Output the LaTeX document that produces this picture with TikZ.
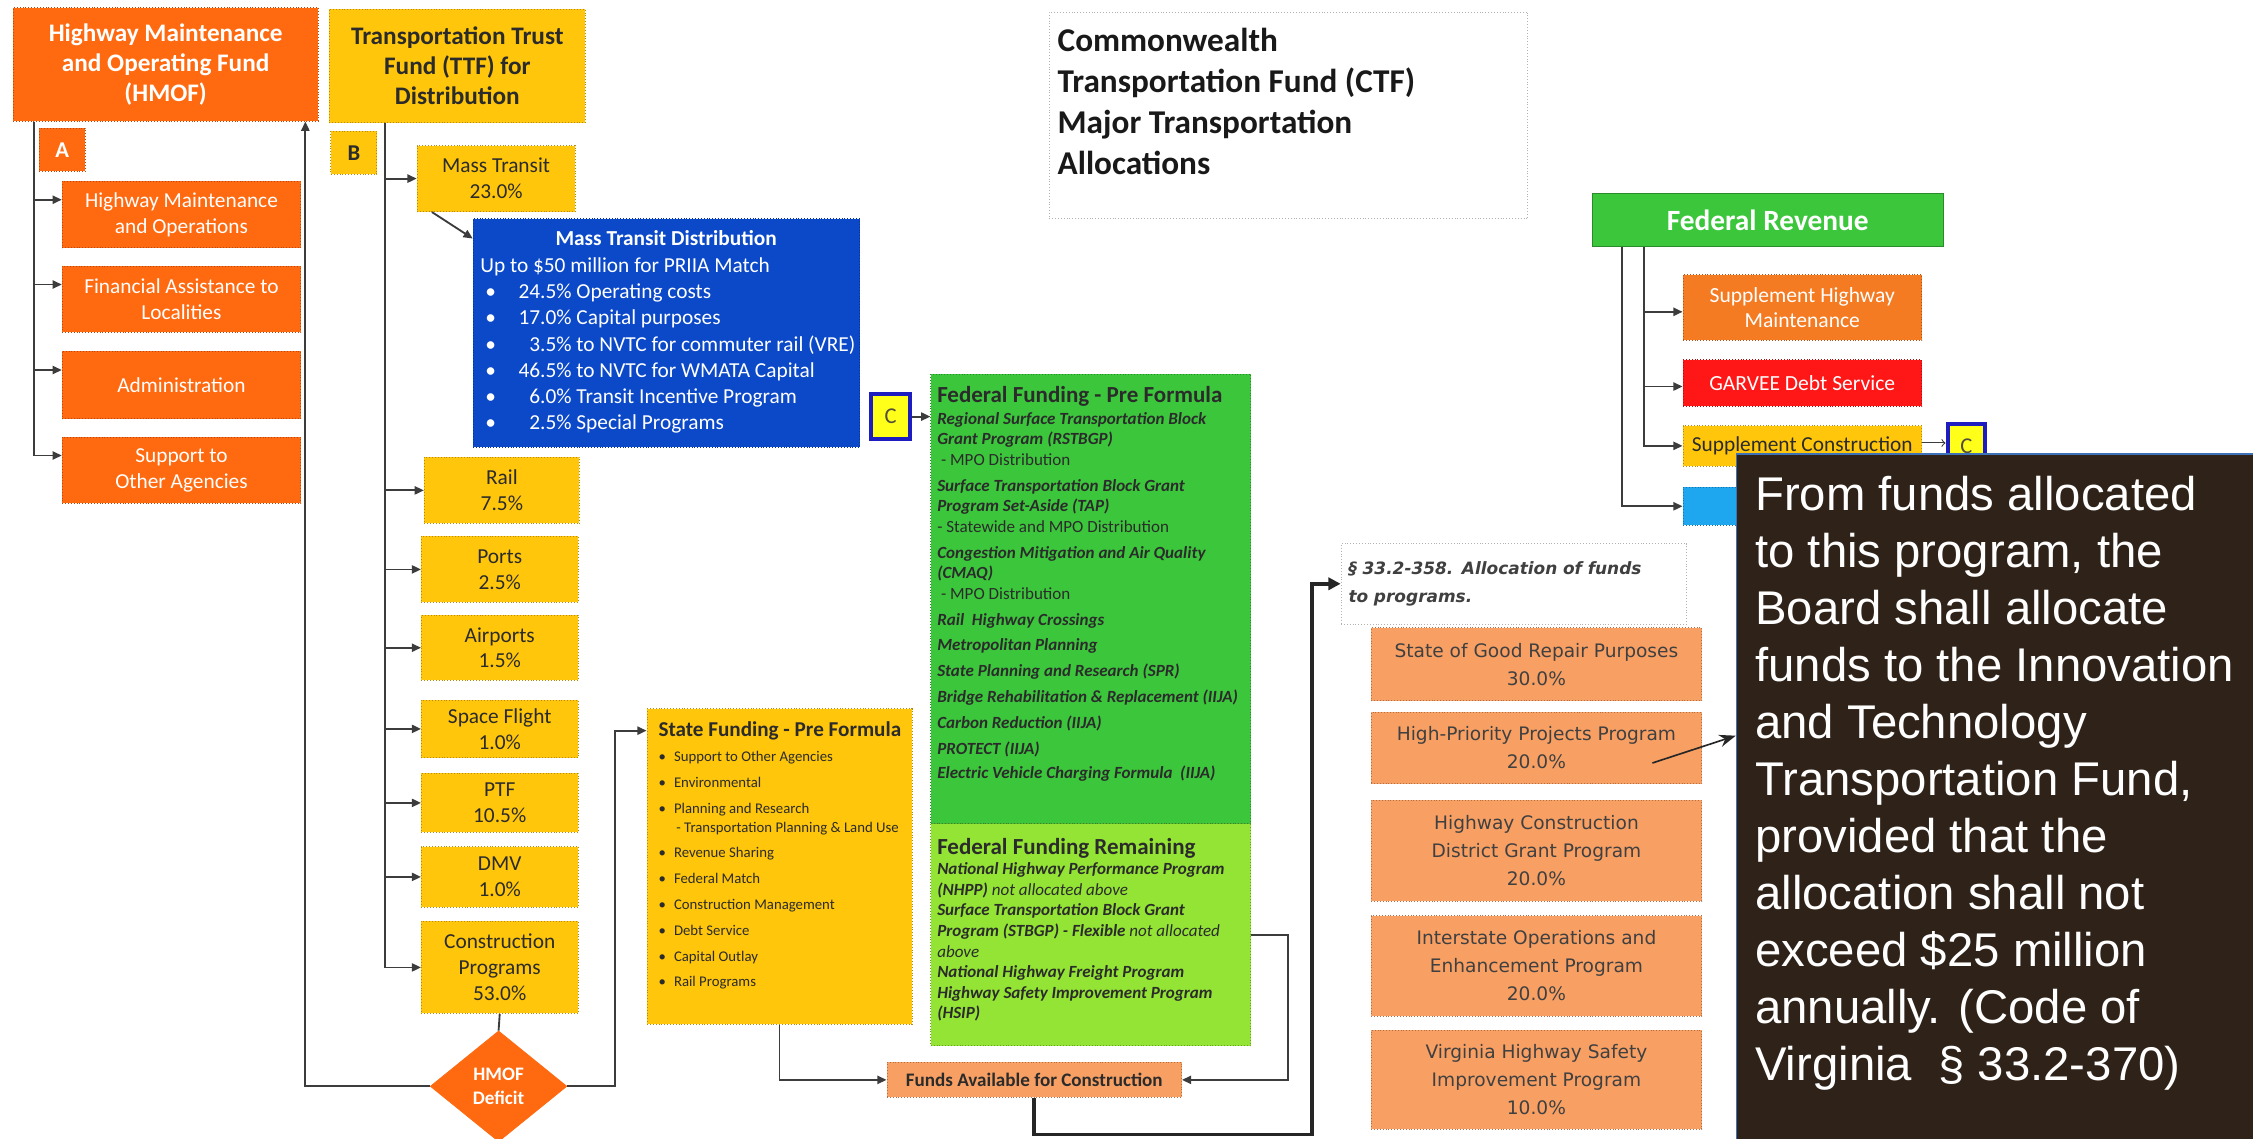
\documentclass[tikz,border=0pt]{standalone}
\usepackage{fontspec}
\setmainfont{Carlito}
\newfontfamily\notefont{Liberation Sans}
\newfontfamily\lawfont{DejaVu Sans}
\usepackage{tikz}
\usetikzlibrary{arrows.meta, positioning, shapes.geometric, calc}
\definecolor{hmoforange}{HTML}{FF6A10}
\definecolor{ttfyellow}{HTML}{FFC60B}
\definecolor{transitblue}{HTML}{0B49C9}
\definecolor{fedgreen}{HTML}{3CC63C}
\definecolor{remgreen}{HTML}{93E434}
\definecolor{salmon}{HTML}{F8A064}
\definecolor{suporange}{HTML}{F57B22}
\definecolor{garveered}{HTML}{FF1616}
\definecolor{skyblue}{HTML}{1EA7EE}
\definecolor{cblue}{HTML}{1C1CC0}
\definecolor{cyellow}{HTML}{FFFF1A}
\definecolor{notebrown}{HTML}{2F2218}
\definecolor{noteedge}{HTML}{3D72B8}
\definecolor{linkgray}{HTML}{3C3C3C}
\definecolor{ink}{HTML}{2B2B2B}
\newcommand{\fbi}[1]{\textbf{\textit{#1}}}
\newcommand{\tbul}{\hspace*{2.5pt}\makebox[16.1pt][l]{\textbullet}}
\newcommand{\sbul}{\makebox[7.56pt][l]{\textbullet}}

\begin{document}
\begin{tikzpicture}[
  x=0.7pt, y=-0.7pt,
  wh/.style 2 args={minimum width=#1*0.7pt, minimum height=#2*0.7pt},
  box/.style={draw=#1!70!black, densely dotted, fill=#1, inner sep=0pt,
    align=center, anchor=north west},
  overlay text/.style={anchor=north west, inner sep=0pt, align=left},
  headfont/.style={font=\fontsize{12.3}{14.7}\selectfont\bfseries},
  kidfont/.style={font=\fontsize{10.4}{12.6}\selectfont},
  cbox/.style={draw=cblue, line width=2pt, fill=cyellow, anchor=north west,
    inner sep=0pt, text=black!65!yellow!60!black, font=\fontsize{11}{11}\selectfont},
  arr/.style={-{Triangle[length=4.5pt,width=4pt]}, draw=linkgray, line width=0.9pt},
  wire/.style={draw=linkgray, line width=0.9pt},
  bigarr/.style={-{Triangle[length=6pt,width=6pt]}, draw=black!85, line width=1.9pt},
  notearr/.style={-{Stealth[length=8pt,width=6pt]}, draw=black!85, line width=0.8pt}
]
  \useasboundingbox (0,0) rectangle (1568,792);

  % HMOF side
  \node[box=hmoforange, wh={212}{79}, text=white, headfont] (hmof) at (9,5)
    {Highway Maintenance\\and Operating Fund\\(HMOF)};
  \node[box=hmoforange, wh={32}{30}, text=white, font=\fontsize{11}{11}\selectfont\bfseries] (tagA) at (27,89) {A};
  \node[box=hmoforange, wh={166}{46}, text=white, kidfont] (hmo) at (43,126) {Highway Maintenance\\and Operations};
  \node[box=hmoforange, wh={166}{46}, text=white, kidfont] (fal) at (43,185) {Financial Assistance to\\Localities};
  \node[box=hmoforange, wh={166}{47}, text=white, kidfont] (admin) at (43,244) {Administration};
  \node[box=hmoforange, wh={166}{46}, text=white, kidfont] (support) at (43,304) {Support to\\Other Agencies};

  % TTF side
  \node[box=ttfyellow, wh={178}{79}, text=ink, headfont] (ttf) at (229,6)
    {Transportation Trust\\Fund (TTF) for\\Distribution};
  \node[box=ttfyellow, wh={32}{30}, text=ink, font=\fontsize{11}{11}\selectfont\bfseries] (tagB) at (230,91) {B};
  \node[box=ttfyellow, wh={110}{46}, text=ink, kidfont] (mass) at (290,101) {Mass Transit\\23.0\%};
  \node[box=ttfyellow, wh={108}{46}, text=ink, kidfont] (rail) at (295,318) {Rail\\7.5\%};
  \node[box=ttfyellow, wh={109}{46}, text=ink, kidfont] (ports) at (293,373) {Ports\\2.5\%};
  \node[box=ttfyellow, wh={109}{45}, text=ink, kidfont] (airports) at (293,428) {Airports\\1.5\%};
  \node[box=ttfyellow, wh={109}{40}, text=ink, kidfont] (space) at (293,487) {Space Flight\\1.0\%};
  \node[box=ttfyellow, wh={109}{41}, text=ink, kidfont] (ptf) at (293,538) {PTF\\10.5\%};
  \node[box=ttfyellow, wh={109}{42}, text=ink, kidfont] (dmv) at (293,589) {DMV\\1.0\%};
  \node[box=ttfyellow, wh={109}{64}, text=ink, kidfont] (constr) at (293,641) {Construction\\Programs\\53.0\%};
  \node[diamond, fill=hmoforange, draw=hmoforange, inner sep=0pt, minimum width=95*0.7pt,
    minimum height=77*0.7pt, text=white, align=center,
    font=\fontsize{9.3}{11.5}\selectfont\bfseries] (deficit) at (347,756) {HMOF\\Deficit};

  % mass transit distribution
  \node[box=transitblue, wh={269}{159}] (transit) at (329,152) {};
  \node[overlay text, text=white, font=\fontsize{10.4}{12.8}\selectfont] (transittxt) at (334,160.4)
    {\makebox[181pt]{\bfseries Mass Transit Distribution}\\
     Up to \$50 million for PRIIA Match\\
     \tbul 24.5\% Operating costs\\
     \tbul 17.0\% Capital purposes\\
     \tbul \phantom{0}3.5\% to NVTC for commuter rail (VRE)\\
     \tbul 46.5\% to NVTC for WMATA Capital\\
     \tbul \phantom{0}6.0\% Transit Incentive Program\\
     \tbul \phantom{0}2.5\% Special Programs};
  \node[cbox, wh={27}{31}] (cleft) at (605,273) {C};

  % federal funding
  \node[box=fedgreen, wh={222.5}{313}] (fedpre) at (647.5,260) {};
  \node[box=remgreen, wh={222.5}{154.5}] (fedrem) at (647.5,573) {};
  \node[overlay text, text=ink, font=\fontsize{8.3}{10}\selectfont] (fedpretxt) at (652,268.8)
    {{\fontsize{11.2}{11.2}\selectfont\bfseries Federal Funding - Pre Formula}\\[0.5pt]
     \fbi{Regional Surface Transportation Block}\\
     \fbi{Grant Program (RSTBGP)}\\
     \ - MPO Distribution\\[2.6pt]
     \fbi{Surface Transportation Block Grant}\\
     \fbi{Program Set-Aside (TAP)}\\
     - Statewide and MPO Distribution\\[2.6pt]
     \fbi{Congestion Mitigation and Air Quality}\\
     \fbi{(CMAQ)}\\
     \ - MPO Distribution\\[2.6pt]
     \fbi{Rail\ \ Highway Crossings}\\[2.6pt]
     \fbi{Metropolitan Planning}\\[2.6pt]
     \fbi{State Planning and Research (SPR)}\\[2.6pt]
     \fbi{Bridge Rehabilitation \& Replacement (IIJA)}\\[2.6pt]
     \fbi{Carbon Reduction (IIJA)}\\[2.6pt]
     \fbi{PROTECT (IIJA)}\\[1.5pt]
     \fbi{Electric Vehicle Charging Formula\ \ (IIJA)}};
  \node[overlay text, text=ink, font=\fontsize{8.3}{10}\selectfont] (fedremtxt) at (652,583.1)
    {{\fontsize{11.2}{11.2}\selectfont\bfseries Federal Funding Remaining}\\
     \fbi{National Highway Performance Program}\\
     \fbi{(NHPP)} \textit{not allocated above}\\
     \fbi{Surface Transportation Block Grant}\\
     \fbi{Program (STBGP) - Flexible} \textit{not allocated}\\
     \textit{above}\\
     \fbi{National Highway Freight Program}\\
     \fbi{Highway Safety Improvement Program}\\
     \fbi{(HSIP)}};

  % state funding
  \node[box=ttfyellow, wh={184.5}{219.6}] (state) at (450,493) {};
  \node[overlay text, text=ink, font=\fontsize{7.2}{9.25}\selectfont] (statetxt) at (458,502)
    {{\fontsize{10.3}{10.3}\selectfont\bfseries State Funding - Pre Formula}\\[3pt]
     \sbul Support to Other Agencies\\[3.3pt]
     \sbul Environmental\\[3.3pt]
     \sbul Planning and Research\\
     \hspace*{8.7pt}- Transportation Planning \& Land Use\\[3.3pt]
     \sbul Revenue Sharing\\[3.3pt]
     \sbul Federal Match\\[3.3pt]
     \sbul Construction Management\\[3.3pt]
     \sbul Debt Service\\[3.3pt]
     \sbul Capital Outlay\\[3.3pt]
     \sbul Rail Programs};
  \node[box=salmon, wh={205}{24.5}, text=ink, font=\fontsize{9.3}{9.3}\selectfont\bfseries] (funds) at (617,739)
    {Funds Available for Construction};

  % CTF title and programs
  \node[box=white, wh={333}{144}] (ctf) at (730,8) {};
  \node[overlay text, text=black!90, font=\fontsize{16.2}{20}\selectfont\bfseries] (ctftxt) at (735.8,19.1)
    {Commonwealth\\Transportation Fund (CTF)\\Major Transportation\\Allocations};
  \node[box=white, wh={240.5}{56}, text width=161pt, align=left, inner xsep=3.5pt, text=black!75,
    font=\lawfont\fontsize{8.26}{13.8}\selectfont\bfseries\itshape] (law) at (933,378)
    {§ 33.2-358. Allocation of funds\\to programs.};
  \node[box=salmon, wh={230}{51}, text=black!75, font=\lawfont\fontsize{9.06}{13.65}\selectfont] (repair) at (954,436.5)
    {State of Good Repair Purposes\\30.0\%};
  \node[box=salmon, wh={230}{49.5}, text=black!75, font=\lawfont\fontsize{9.06}{13.65}\selectfont] (priority) at (954,495.5)
    {High-Priority Projects Program\\20.0\%};
  \node[box=salmon, wh={230}{70}, text=black!75, font=\lawfont\fontsize{9.06}{13.65}\selectfont] (district) at (954,556.7)
    {Highway Construction\\District Grant Program\\20.0\%};
  \node[box=salmon, wh={230}{70}, text=black!75, font=\lawfont\fontsize{9.06}{13.65}\selectfont] (interstate) at (954,637)
    {Interstate Operations and\\Enhancement Program\\20.0\%};
  \node[box=salmon, wh={230}{69}, text=black!75, font=\lawfont\fontsize{9.06}{13.65}\selectfont] (safety) at (954,716.6)
    {Virginia Highway Safety\\Improvement Program\\10.0\%};

  % federal revenue
  \node[box=fedgreen, solid, wh={244}{37}, text=white, font=\fontsize{14.3}{14.3}\selectfont\bfseries] (fedrev) at (1108,134.5)
    {Federal Revenue};
  \node[box=suporange, wh={166}{45.6}, text=white, font=\fontsize{10.5}{12.2}\selectfont] (suphwy) at (1171,191)
    {Supplement Highway\\Maintenance};
  \node[box=garveered, wh={166}{32.6}, text=white, font=\fontsize{10.5}{12.2}\selectfont] (garvee) at (1171,250)
    {GARVEE Debt Service};
  \node[box=ttfyellow, wh={166}{28}, text=ink, font=\fontsize{10.4}{12}\selectfont] (supcon) at (1171,296)
    {Supplement Construction};
  \node[cbox, wh={26}{31}] (cright) at (1354,293.5) {C};
  \node[box=skyblue, wh={166}{26.7}] (fedmisc) at (1171,338.7) {};

  % connectors
  \coordinate (hmtrunk) at ([xshift=14.4*0.7pt]hmof.south west);
  \draw[arr] (hmtrunk) |- ([yshift=-13*0.7pt]hmo.north west);
  \draw[arr] (hmtrunk) |- ([yshift=-13*0.7pt]fal.north west);
  \draw[arr] (hmtrunk) |- ([yshift=-13.5*0.7pt]admin.north west);
  \draw[arr] (hmtrunk) |- ([yshift=-13*0.7pt]support.north west);

  \coordinate (ttftrunk) at ([xshift=38.7*0.7pt]ttf.south west);
  \draw[arr] (ttftrunk) |- (mass.west);
  \draw[arr] (ttftrunk) |- (rail.west);
  \draw[arr] (ttftrunk) |- (ports.west);
  \draw[arr] (ttftrunk) |- (airports.west);
  \draw[arr] (ttftrunk) |- (space.west);
  \draw[arr] (ttftrunk) |- (ptf.west);
  \draw[arr] (ttftrunk) |- (dmv.west);
  \draw[arr] (ttftrunk) |- (constr.west);
  \draw[arr] ([xshift=10.6*0.7pt]mass.south west) -- ([yshift=-14*0.7pt]transit.north west);

  \draw[wire] (constr.south) -- (deficit.north);
  \draw[arr] (deficit.west) -| ([xshift=203.5*0.7pt]hmof.south west);
  \draw[arr] (deficit.east) -- ++(33.5,0) |- ([yshift=-15.5*0.7pt]state.north west);

  \draw[arr] (cleft.east) -- (cleft.east -| fedpre.west);
  \draw[arr] (state.south) |- (funds.west);
  \draw[arr] (fedrem.east) -- ++(26,0) |- (funds.east);
  \draw[bigarr] (funds.south) -- ++(0,25.5) -| ($(law.west)+(-20,0)$) -- (law.west);

  \coordinate (fedouter) at ([xshift=20.6*0.7pt]fedrev.south west);
  \coordinate (fedinner) at ([xshift=36.2*0.7pt]fedrev.south west);
  \draw[arr] (fedinner) |- ([yshift=-26*0.7pt]suphwy.north west);
  \draw[arr] (fedinner) |- ([yshift=-19*0.7pt]garvee.north west);
  \draw[arr] (fedinner) |- (supcon.west);
  \draw[arr] (fedouter) |- (fedmisc.west);
  \draw[-to, draw=linkgray, line width=0.5pt] ([yshift=1.4pt]supcon.east) -- ([yshift=1.4pt]supcon.east -| cright.west);

  % code note
  \node[draw=noteedge, fill=notebrown, line width=0.8pt, anchor=north west, wh={380}{500}, inner sep=0pt] (note) at (1208,315.5) {};
  \node[overlay text, text=white, font=\notefont\fontsize{23.05}{27.76}\selectfont] (notetxt) at (1221.3,331)
    {From funds allocated\\to this program, the\\Board shall allocate\\funds to the Innovation\\and Technology\\Transportation Fund,\\provided that the\\allocation shall not\\exceed \$25 million\\annually. (Code of\\Virginia\ \ § 33.2-370)};
  \coordinate (prioritytail) at (1150,531);
  \draw[notearr] (prioritytail) -- ([yshift=-196.5*0.7pt]note.north west);
\end{tikzpicture}
\end{document}
